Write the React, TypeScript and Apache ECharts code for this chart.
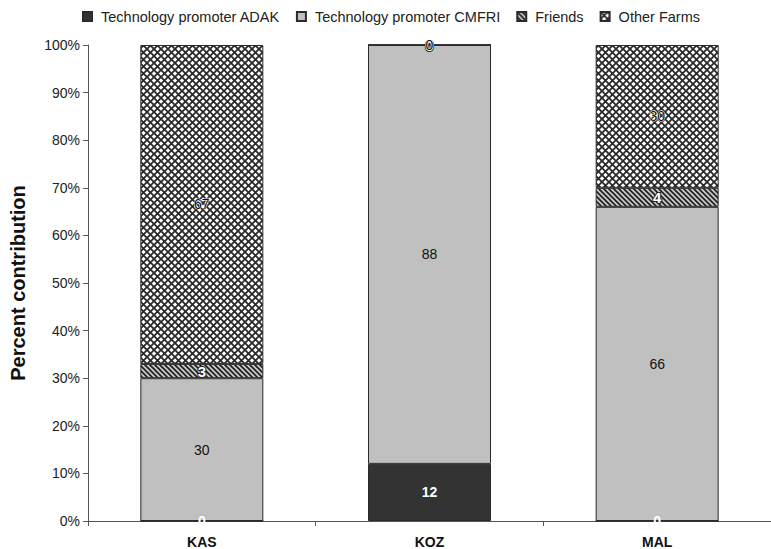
import React, { useEffect, useRef } from "react";
import * as echarts from "echarts";

const categories = ["KAS", "KOZ", "MAL"];
const adak = [0, 12, 0];
const cmfri = [30, 88, 66];
const friends = [3, 0, 4];
const otherFarms = [67, 0, 30];
const yTicks = [0, 10, 20, 30, 40, 50, 60, 70, 80, 90, 100];

// Diamond mesh fill for "Other Farms"
function crossHatch(): HTMLCanvasElement {
  const s = 7;
  const c = document.createElement("canvas");
  c.width = s;
  c.height = s;
  const g = c.getContext("2d")!;
  g.fillStyle = "#ffffff";
  g.fillRect(0, 0, s, s);
  g.strokeStyle = "#2a2a2a";
  g.lineWidth = 1.8;
  g.beginPath();
  g.moveTo(-1, -1); g.lineTo(s + 1, s + 1);
  g.moveTo(s + 1, -1); g.lineTo(-1, s + 1);
  g.stroke();
  return c;
}

// Back-slash stripes for "Friends"
function diagonalStripes(): HTMLCanvasElement {
  const s = 5;
  const c = document.createElement("canvas");
  c.width = s;
  c.height = s;
  const g = c.getContext("2d")!;
  g.fillStyle = "#c8c8c8";
  g.fillRect(0, 0, s, s);
  g.strokeStyle = "#1e1e1e";
  g.lineWidth = 1.6;
  g.beginPath();
  g.moveTo(-1, -1); g.lineTo(s + 1, s + 1);
  g.moveTo(-1, s - 1); g.lineTo(1, s + 1);
  g.moveTo(s - 1, -1); g.lineTo(s + 1, 1);
  g.stroke();
  return c;
}

export default function App() {
  const ref = useRef<HTMLDivElement>(null);
  useEffect(() => {
    if (!ref.current) return;
    const chart = echarts.init(ref.current, null, { renderer: "svg" });
    const font = "'Liberation Sans', Arial, sans-serif";
    const border = { borderColor: "#2a2a2a", borderWidth: 1 };
    const base = {
      type: "bar" as const,
      stack: "total",
      barWidth: 123,
    };
    chart.setOption({
      animation: false,
      textStyle: { fontFamily: font },
      legend: {
        top: 4,
        left: 77,
        icon: "rect",
        itemWidth: 9,
        itemHeight: 9,
        itemGap: 16,
        textStyle: {
          fontSize: 14.5,
          color: "#222",
          fontFamily: font,
          padding: [0, 0, 0, 4],
        },
        data: [
          "Technology promoter ADAK",
          "Technology promoter CMFRI",
          "Friends",
          "Other Farms",
        ],
      },
      grid: { left: 87, top: 45, height: 476, width: 693 },
      xAxis: {
        type: "category",
        data: categories,
        axisLine: { lineStyle: { color: "#555", width: 1 } },
        axisTick: { show: true, length: 5, lineStyle: { color: "#555" } },
        axisLabel: {
          fontSize: 14,
          fontWeight: "bold",
          color: "#111",
          margin: 14,
          fontFamily: font,
        },
      },
      yAxis: {
        type: "value",
        min: 0,
        max: 100,
        interval: 10,
        name: "Percent contribution",
        nameLocation: "middle",
        nameGap: 60,
        nameTextStyle: {
          fontSize: 20,
          fontWeight: "bold",
          color: "#111",
          fontFamily: font,
        },
        axisLine: { show: true, lineStyle: { color: "#555", width: 1 } },
        axisTick: { show: true, length: 5, lineStyle: { color: "#555" } },
        splitLine: { show: false },
        axisLabel: {
          fontSize: 14,
          color: "#222",
          margin: 8,
          fontFamily: font,
          formatter: (v: number) => (yTicks.includes(v) ? v + "%" : ""),
        },
      },
      series: [
        {
          ...base,
          name: "Technology promoter ADAK",
          data: adak,
          itemStyle: { color: "#333333", ...border },
          label: {
            show: true,
            position: "inside",
            color: "#fff",
            fontWeight: "bold",
            fontSize: 14,
            fontFamily: font,
          },
        },
        {
          ...base,
          name: "Technology promoter CMFRI",
          data: cmfri,
          itemStyle: { color: "#c0c0c0", ...border },
          label: {
            show: true,
            position: "inside",
            color: "#111",
            fontSize: 14,
            fontFamily: font,
          },
        },
        {
          ...base,
          name: "Friends",
          data: friends,
          itemStyle: {
            color: { image: diagonalStripes(), repeat: "repeat" },
            ...border,
          },
          label: {
            show: true,
            position: "inside",
            color: "#fff",
            fontWeight: "bold",
            fontSize: 15,
            textBorderColor: "#222",
            textBorderWidth: 2,
            fontFamily: font,
          },
        },
        {
          ...base,
          name: "Other Farms",
          data: otherFarms,
          itemStyle: {
            color: { image: crossHatch(), repeat: "repeat" },
            ...border,
          },
          label: {
            show: true,
            position: "inside",
            color: "#111",
            fontSize: 14,
            textBorderColor: "#fff",
            textBorderWidth: 1,
            fontFamily: font,
          },
        },
      ],
    });
    return () => chart.dispose();
  }, []);
  return (
    <div
      ref={ref}
      style={{ position: "absolute", left: 0, top: 0, width: 771, height: 549 }}
    />
  );
}
